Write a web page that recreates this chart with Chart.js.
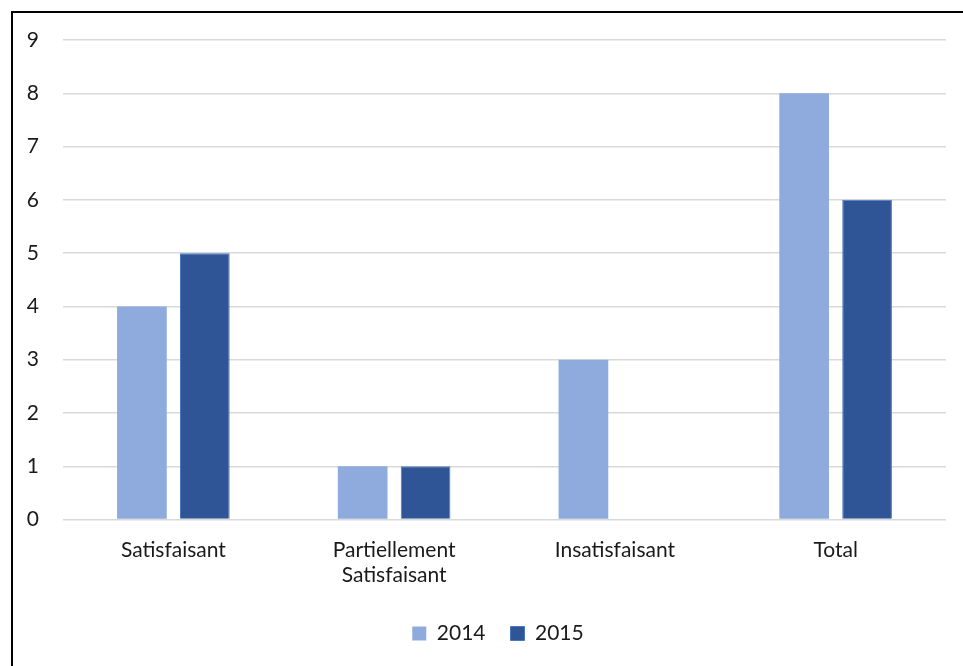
<html lang="fr">
<head>
    <meta charset="UTF-8">
    <title>Chart</title>
    <script src="https://cdn.jsdelivr.net/npm/chart.js@4.4.0/dist/chart.umd.min.js"></script>
    <style>
        body { margin: 0; background: #fff; }
        #frame { position: absolute; left: 11px; top: 11px; width: 970px; height: 680px;
                 border-left: 2px solid #000; border-top: 2px solid #000; }
        #wrap { position: absolute; left: 0; top: 0; width: 963px; height: 666px; }
    </style>
</head>
<body>
    <div id="frame"></div>
    <div id="wrap"><canvas id="chart" width="963" height="666"></canvas></div>
    <script>
        // values
        const categories = ['Satisfaisant', ['Partiellement', 'Satisfaisant'], 'Insatisfaisant', 'Total'];
        const values2014 = [4, 1, 3, 8];
        const values2015 = [5, 1, 0, 6];
        const seriesNames = ['2014', '2015'];

        const txt = { family: 'Lato', size: 21 };

        // legend in the original sits centred under the plot area, not the whole canvas
        const centreLegend = {
            id: 'centreLegend',
            afterLayout(chart) {
                chart.legend.left += 50;
            }
        };

        const ctx = document.getElementById('chart').getContext('2d');
        new Chart(ctx, {
            type: 'bar',
            data: {
                labels: categories,
                datasets: [{
                    label: seriesNames[0],
                    data: values2014,
                    backgroundColor: '#8faadc',
                    categoryPercentage: 0.57,
                    barPercentage: 0.79
                }, {
                    label: seriesNames[1],
                    data: values2015,
                    backgroundColor: '#2f5597',
                    borderColor: '#4a78c0',
                    borderWidth: 1,
                    categoryPercentage: 0.57,
                    barPercentage: 0.79
                }]
            },
            options: {
                responsive: false,
                animation: false,
                layout: { padding: { left: 0, right: 17, top: 40, bottom: 12 } },
                scales: {
                    x: {
                        grid: { display: false },
                        border: { display: false },
                        ticks: { color: '#1a1a1a', font: txt, padding: 10, maxRotation: 0 },
                        afterFit: s => { s.paddingLeft = 0; s.paddingRight = 0; }
                    },
                    y: {
                        min: 0, max: 9,
                        grid: { color: '#d9d9d9', lineWidth: 1.5, drawTicks: false },
                        border: { display: false },
                        ticks: { stepSize: 1, color: '#1a1a1a', font: txt, padding: 24 },
                        afterFit: s => { s.width = 63; s.paddingTop = 0; s.paddingBottom = 0; }
                    }
                },
                plugins: {
                    legend: {
                        position: 'bottom',
                        labels: { color: '#1a1a1a', font: txt, boxWidth: 14, boxHeight: 14, padding: 25 }
                    },
                    tooltip: { enabled: false }
                }
            },
            plugins: [centreLegend]
        });
    </script>
</body>
</html>
